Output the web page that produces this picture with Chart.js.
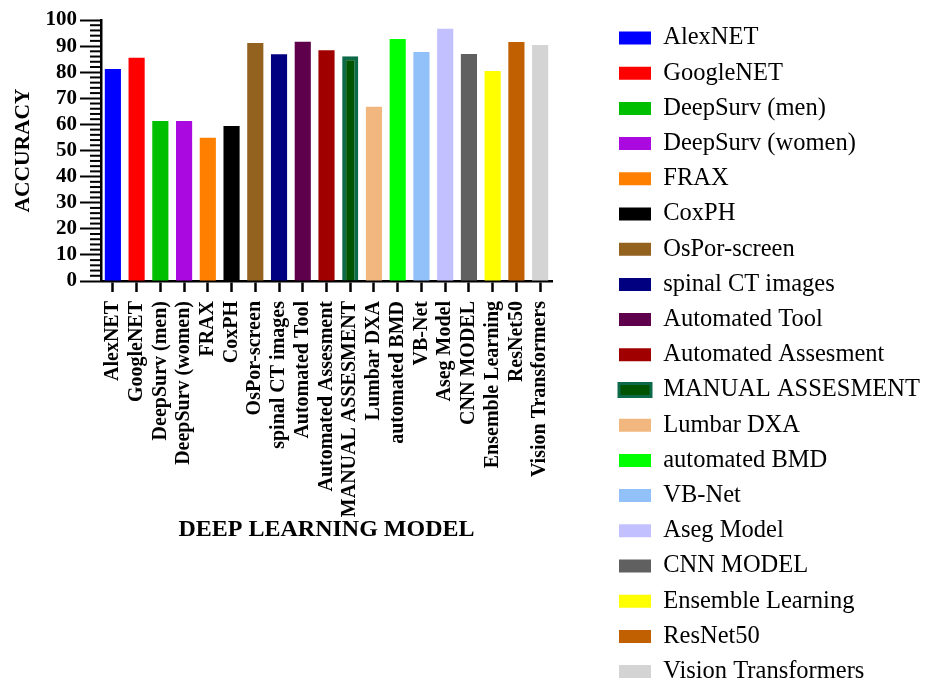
<!DOCTYPE html>
<html>
<head>
<meta charset="utf-8">
<script src="https://cdn.jsdelivr.net/npm/chart.js@4"></script>
<style>
  body { margin: 0; background: #fff; overflow: hidden; }
  #wrap { width: 928px; height: 682px; position: relative; }
</style>
</head>
<body>
<div id="wrap"><canvas id="mychart"></canvas></div>
<script>
const modelos = ['AlexNET', 'GoogleNET', 'DeepSurv (men)', 'DeepSurv (women)', 'FRAX', 'CoxPH',
  'OsPor-screen', 'spinal CT images', 'Automated Tool', 'Automated Assesment', 'MANUAL ASSESMENT',
  'Lumbar DXA', 'automated BMD', 'VB-Net', 'Aseg Model', 'CNN MODEL', 'Ensemble Learning',
  'ResNet50', 'Vision Transformers'];
const accuracy = [81.2, 85.5, 61.3, 61.3, 54.9, 59.4, 91.2, 86.9, 91.7, 88.4, 86.1,
  66.8, 92.7, 87.7, 96.6, 87.0, 80.5, 91.6, 90.4];
const colores = ['#0000ff', '#ff0000', '#00bf00', '#aa0ae0', '#ff8000', '#000000',
  '#93621f', '#000080', '#5f004c', '#a00000', '#005400', '#f2b77f', '#00ff00',
  '#92c0f9', '#c2c0ff', '#606060', '#ffff00', '#c06000', '#d4d4d4'];
const bordes = colores.map((c, i) => i === 10 ? '#0d6a48' : c);
const bordeAncho = colores.map((c, i) => i === 10 ? 4 : 0);
const yTicks = [0, 10, 20, 30, 40, 50, 60, 70, 80, 90, 100];
const pasoMenor = 2;

const serif = 'Liberation Serif';
const legFont = 24.5;
const legPad = 10.7;

// small marks between the labelled y ticks
const ticksMenores = {
  id: 'ticksMenores',
  afterDraw(chart) {
    const y = chart.scales.y;
    const ctx = chart.ctx;
    const x0 = chart.chartArea.left;
    ctx.save();
    ctx.strokeStyle = '#000';
    ctx.lineWidth = 2;
    for (let v = yTicks[0]; v <= yTicks[yTicks.length - 1]; v += pasoMenor) {
      if (v % 10 === 0) continue;
      const py = y.getPixelForValue(v);
      ctx.beginPath();
      ctx.moveTo(x0 - 11, py);
      ctx.lineTo(x0, py);
      ctx.stroke();
    }
    ctx.restore();
  }
};

// put the legend where the original has it
const moverLeyenda = {
  id: 'moverLeyenda',
  afterLayout(chart) {
    const lg = chart.legend;
    lg.left = 619 - legPad;
    lg.right = lg.left + lg.width;
    lg.top = 38 - legPad - legFont / 2;
    lg.bottom = 720;
  }
};

const canvas = document.getElementById('mychart');
new Chart(canvas, {
  type: 'bar',
  data: {
    labels: modelos,
    datasets: [{
      label: 'ACCURACY',
      data: accuracy,
      backgroundColor: colores,
      borderColor: bordes,
      borderWidth: bordeAncho,
      categoryPercentage: 1,
      barPercentage: 0.68
    }]
  },
  options: {
    responsive: true,
    maintainAspectRatio: false,
    animation: false,
    layout: { padding: 0 },
    plugins: {
      tooltip: { enabled: false },
      legend: {
        position: 'right',
        align: 'start',
        maxWidth: 400,
        labels: {
          boxWidth: 32,
          boxHeight: 13,
          padding: legPad,
          color: '#000',
          font: { family: serif, size: legFont },
          generateLabels: () => modelos.map((m, i) => ({
            text: m,
            fillStyle: colores[i],
            strokeStyle: bordes[i],
            lineWidth: bordeAncho[i] ? 3 : 0,
            hidden: false,
            index: i
          }))
        }
      }
    },
    scales: {
      x: {
        offset: true,
        grid: { display: true, drawOnChartArea: false, offset: false, tickLength: 11, tickWidth: 2.5, tickColor: '#000' },
        border: { display: true, color: '#000', width: 2.5 },
        ticks: {
          autoSkip: false,
          maxRotation: 90,
          minRotation: 90,
          padding: 9,
          color: '#000',
          font: { family: serif, size: 20, weight: 'bold' }
        },
        title: {
          display: true,
          text: 'DEEP LEARNING MODEL',
          color: '#000',
          font: { family: serif, size: 24, weight: 'bold' },
          padding: { top: 4, bottom: 137.6 }
        },
        afterFit(s) {
          s.height = 401;
          s.paddingRight = 376;
        }
      },
      y: {
        min: 0,
        max: 100,
        afterBuildTicks(s) { s.ticks = yTicks.map(v => ({ value: v })); },
        grid: { display: true, drawOnChartArea: false, tickLength: 21, tickWidth: 2, tickColor: '#000' },
        border: { display: true, color: '#000', width: 2.5 },
        ticks: {
          autoSkip: false,
          padding: 3,
          color: '#000',
          font: { family: serif, size: 21, weight: 'bold' }
        },
        title: {
          display: true,
          text: 'ACCURACY',
          color: '#000',
          font: { family: serif, size: 21.5, weight: 'bold' },
          padding: { top: 11, bottom: 0 }
        },
        afterFit(s) {
          s.width = 101;
          s.paddingTop = 20;
        }
      }
    }
  },
  plugins: [ticksMenores, moverLeyenda]
});
</script>
</body>
</html>
